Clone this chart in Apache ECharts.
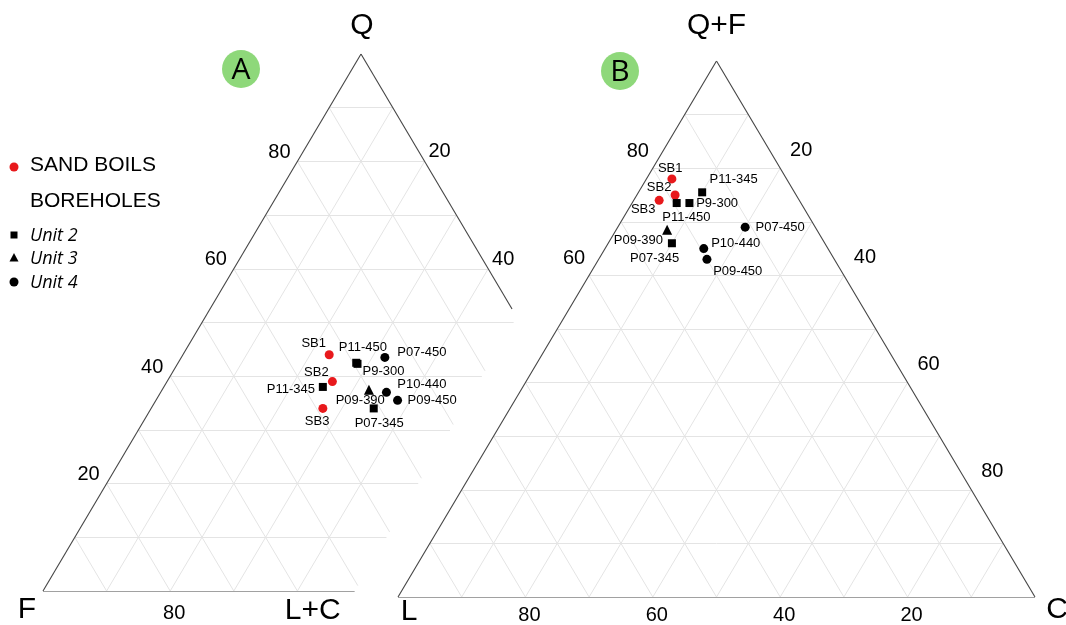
<!DOCTYPE html>
<html><head><meta charset="utf-8">
<script src="https://cdn.jsdelivr.net/npm/echarts@6/dist/echarts.min.js"></script>
<style>html,body{margin:0;padding:0;background:#fff}#c{width:1066px;height:625px}</style>
</head><body><div id="c"></div>
<script>
// ---------- DATA ----------
const samples = ['SB1','SB2','SB3','P11-450','P9-300','P11-345','P07-450','P09-390','P10-440','P09-450','P07-345'];
const groups  = ['sand','sand','sand','unit2','unit2','unit2','unit4','unit3','unit4','unit4','unit2'];
// Diagram A: Q (top) - F (bottom left) - L+C (bottom right)
const aQ  = [44, 39, 34, 42.5, 42.3, 38, 43.5, 37.5, 37, 35.5, 34];
const aF  = [33, 35, 39, 29.5, 29.4, 37, 24.5, 30, 27.5, 26.5, 31];
const aLC = [23, 26, 27, 28, 28.3, 25, 32, 32.5, 35.5, 38, 35];
// Diagram B: Q+F (top) - L (bottom left) - C (bottom right)
const bQF = [78, 75, 74, 73.5, 73.5, 75.5, 69, 68.5, 65, 63, 66];
const bL  = [18, 19, 22, 19.5, 17.5, 14.5, 11, 23.5, 19.5, 20, 24];
const bC  = [4, 6, 4, 7, 9, 10, 20, 8, 15.5, 17, 10];
const gridSteps = [10,20,30,40,50,60,70,80,90];
const aLeftTicks = [80,60,40,20];
const aRightTicks = [20,40];
const aBottomTicks = [80];
const bLeftTicks = [80,60];
const bRightTicks = [20,40,60,80];
const bBottomTicks = [80,60,40,20];
const aVertices = ['Q','F','L+C'];
const bVertices = ['Q+F','L','C'];
const aClip = 49;        // diagram A is drawn only up to L+C = 49 %
const aEdgeClip = 47.5;
const legendItems = ['SAND BOILS','BOREHOLES','Unit 2','Unit 3','Unit 4'];
const panelLetters = ['A','B'];

// ---------- STYLE ----------
const FONT = 'Liberation Sans, Arial, Helvetica, sans-serif';
const INK = '#000';
const offA = {'SB1':[-15.5,-11],'SB2':[-16,-9],'SB3':[-5.7,12.6],'P11-450':[6.7,-15],'P9-300':[26,8],
  'P11-345':[-32,2],'P07-450':[37,-5],'P09-390':[-8.7,10.5],'P10-440':[35.5,-8],'P09-450':[34.5,0.5],'P07-345':[5.5,15]};
const offB = {'SB1':[-1.7,-10],'SB2':[-16,-8],'SB3':[-16,9],'P11-450':[9.7,14],'P9-300':[27.7,0.5],
  'P11-345':[31.5,-13],'P07-450':[35,0],'P09-390':[-28.7,10.5],'P10-440':[32,-5],'P09-450':[30.8,11.7],'P07-345':[-17.3,14.7]};
const groupStyle = {
  sand: {symbol:'circle', size:9, color:'#e8191c'},
  unit2:{symbol:'rect', size:8, color:'#000'},
  unit3:{symbol:'triangle', size:10, color:'#000'},
  unit4:{symbol:'circle', size:9, color:'#000'}
};

// ternary -> cartesian (top, right, left components)
function tern(top, right, left){
  if (left === undefined) left = 100 - top - right;
  const s = top + right + left;
  return [(right + top/2)/s*100, top/s*100];
}

// ---------- GRID LINES ----------
const aGrid = [], aEdges = [], bGrid = [], bEdges = [];
gridSteps.forEach(v => {
  aGrid.push([tern(v,0), tern(v, Math.min(100-v, aClip))]);
  if (v < aClip) aGrid.push([tern(0,v), tern(100-v, v)]);
  const endLc = Math.min(100-v, aClip);
  aGrid.push([tern(100-v,0), tern(100-v-endLc, endLc)]);
  bGrid.push([tern(v,0), tern(v,100-v)]);
  bGrid.push([tern(0,v), tern(100-v,v)]);
  bGrid.push([tern(100-v,0), tern(0,100-v)]);
});
aEdges.push([tern(0,0), tern(100,0)], [tern(100,0), tern(100-aEdgeClip, aEdgeClip)], [tern(0,0), tern(0,aClip)]);
bEdges.push([tern(0,0), tern(100,0)], [tern(100,0), tern(0,100)], [tern(0,0), tern(0,100)]);

function linesSeries(segs, idx, color, width, z){
  return {type:'lines', coordinateSystem:'cartesian2d', xAxisIndex:idx, yAxisIndex:idx, silent:true, z:z,
    polyline:false, data: segs.map(s => ({coords:s})),
    lineStyle:{color:color, width:width, opacity:1, type:'solid'}, animation:false};
}

function textSeries(items, idx, fontSize, family){
  return {type:'scatter', xAxisIndex:idx, yAxisIndex:idx, silent:true, symbol:'circle', symbolSize:1,
    itemStyle:{color:'rgba(0,0,0,0)', opacity:1}, z:5,
    label:{show:true, position:'inside', formatter: p => p.name, fontSize:fontSize, color:INK,
      fontFamily: family || FONT},
    data: items.map(it => ({name:String(it.t), value:it.v, label:{offset:it.o}}))};
}

const series = [
  linesSeries(aGrid, 0, '#e4e4e4', 1, 1),
  linesSeries(bGrid, 1, '#e4e4e4', 1, 1),
  linesSeries(aEdges, 0, '#444', 1.1, 2),
  linesSeries(bEdges, 1, '#444', 1.1, 2)
];

series.push(textSeries([
  ...aLeftTicks.map(t => ({t, v:tern(t,0), o:[-18,-9]})),
  ...aRightTicks.map(t => ({t, v:tern(100-t,t), o:[15,-9.5]})),
  ...aBottomTicks.map(t => ({t, v:tern(0,100-t), o:[4,22]}))
], 0, 20));
series.push(textSeries([
  ...bLeftTicks.map(t => ({t, v:tern(t,0), o:[-15,-17]})),
  ...bRightTicks.map(t => ({t, v:tern(100-t,t), o:[21,-18]})),
  ...bBottomTicks.map(t => ({t, v:tern(0,100-t), o:[4,18]}))
], 1, 20));
series.push(textSeries([
  {t:aVertices[0], v:tern(100,0), o:[1,-28]},
  {t:aVertices[1], v:tern(0,0), o:[-16,19]},
  {t:aVertices[2], v:tern(0,aClip), o:[-42,20]}
], 0, 30));
series.push(textSeries([
  {t:bVertices[0], v:tern(100,0), o:[0,-35]},
  {t:bVertices[1], v:tern(0,0), o:[11,15]},
  {t:bVertices[2], v:tern(0,100), o:[22,13]}
], 1, 30));

Object.keys(groupStyle).forEach(g => {
  const st = groupStyle[g];
  [0,1].forEach(idx => {
    const data = [];
    samples.forEach((n,i) => {
      if (groups[i] !== g) return;
      const v = idx === 0 ? tern(aQ[i], aLC[i], aF[i]) : tern(bQF[i], bC[i], bL[i]);
      data.push({name:n, value:v, label:{offset:(idx===0?offA:offB)[n]}});
    });
    series.push({type:'scatter', xAxisIndex:idx, yAxisIndex:idx, symbol:st.symbol, symbolSize:st.size,
      itemStyle:{color:st.color, opacity:1}, z:10,
      label:{show:true, position:'inside', formatter:p=>p.name, fontSize:13, color:INK, fontFamily:FONT},
      data});
  });
});

const graphic = [
  {type:'circle', shape:{cx:241, cy:69, r:19}, style:{fill:'#8ed87a'}},
  {type:'text', x:241, y:70, style:{text:panelLetters[0], font:'30px "Open Sans", sans-serif', fill:INK, textAlign:'center', textVerticalAlign:'middle'}},
  {type:'circle', shape:{cx:620, cy:71, r:19}, style:{fill:'#8ed87a'}},
  {type:'text', x:620, y:72, style:{text:panelLetters[1], font:'30px "Open Sans", sans-serif', fill:INK, textAlign:'center', textVerticalAlign:'middle'}},
  {type:'circle', shape:{cx:14, cy:167, r:4.5}, style:{fill:'#e8191c'}},
  {type:'text', x:30, y:165, style:{text:legendItems[0], font:'21px ' + FONT, fill:INK, textVerticalAlign:'middle'}},
  {type:'text', x:30, y:201, style:{text:legendItems[1], font:'21px ' + FONT, fill:INK, textVerticalAlign:'middle'}},
  {type:'rect', shape:{x:10.5, y:231.5, width:7, height:7}, style:{fill:'#000'}},
  {type:'text', x:30, y:236, style:{text:legendItems[2], font:'italic 18px "Open Sans", sans-serif', fill:INK, textVerticalAlign:'middle'}},
  {type:'polygon', shape:{points:[[14,253],[9.5,261.5],[18.5,261.5]]}, style:{fill:'#000'}},
  {type:'text', x:30, y:259, style:{text:legendItems[3], font:'italic 18px "Open Sans", sans-serif', fill:INK, textVerticalAlign:'middle'}},
  {type:'circle', shape:{cx:14, cy:282, r:4.5}, style:{fill:'#000'}},
  {type:'text', x:30, y:283, style:{text:legendItems[4], font:'italic 18px "Open Sans", sans-serif', fill:INK, textVerticalAlign:'middle'}}
];

const axisCommon = {type:'value', min:0, max:100, show:false};
const chart = echarts.init(document.getElementById('c'), null, {renderer:'canvas'});
chart.setOption({
  animation:false,
  backgroundColor:'#fff',
  grid:[{left:43, top:54, width:636, height:537}, {left:398, top:61, width:637, height:536}],
  xAxis:[{...axisCommon, gridIndex:0}, {...axisCommon, gridIndex:1}],
  yAxis:[{...axisCommon, gridIndex:0}, {...axisCommon, gridIndex:1}],
  graphic,
  series
});
</script></body></html>
